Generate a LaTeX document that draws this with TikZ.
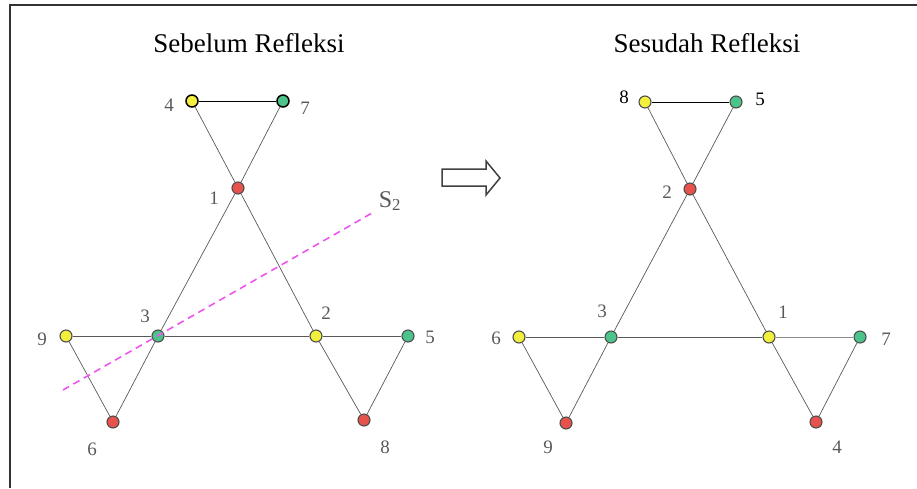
\documentclass[tikz,border=0pt]{standalone}
\usepackage{fontspec}
\setmainfont{Liberation Serif}

\definecolor{titikkuning}{HTML}{F2F03C}
\definecolor{titikhijau}{HTML}{4CC38A}
\definecolor{titikmerah}{HTML}{E8524C}
\definecolor{garismagenta}{HTML}{EE55EE}

\begin{document}
\begin{tikzpicture}[x=1pt,y=-1pt,
    titik/.style={circle,draw=black!70,line width=1.1pt,minimum size=12pt,inner sep=0pt},
    kuning/.style={titik,fill=titikkuning},
    hijau/.style={titik,fill=titikhijau},
    merah/.style={titik,fill=titikmerah},
    sisi/.style={draw=black!65,line width=0.7pt},
    angka/.style={anchor=base,inner sep=0pt,text=black!65,font=\fontsize{19}{22}\selectfont},
    judul/.style={anchor=base,inner sep=0pt,font=\fontsize{27}{30}\selectfont}]
    \useasboundingbox (0,0) rectangle (917,488);

    % bingkai
    \draw[black!80,line width=1.4pt] (10,488) -- (10,5) -- (917,5);

    % judul
    \node[judul] (jkiri) at (249,52) {Sebelum Refleksi};
    \node[judul] (jkanan) at (707,52) {Sesudah Refleksi};

    % graf sebelum refleksi
    \node[kuning,draw=black,line width=1.5pt] (a4) at (192,101) {};
    \node[hijau,draw=black,line width=1.5pt] (a7) at (283,101) {};
    \node[merah] (a1) at (238,188) {};
    \node[hijau] (a3) at (158,336) {};
    \node[kuning] (a2) at (316,336) {};
    \node[kuning] (a9) at (66,336) {};
    \node[hijau] (a5) at (408,336) {};
    \node[merah] (a6) at (113,422) {};
    \node[merah] (a8) at (364,420) {};

    \draw[black,line width=0.9pt] (a4) -- (a7);
    \draw[sisi] (a4) -- (a1) -- (a2);
    \draw[sisi] (a7) -- (a1) -- (a3);
    \draw[sisi] (a9) -- (a3) -- (a2) -- (a5);
    \draw[sisi] (a9) -- (a6) -- (a3);
    \draw[sisi] (a2) -- (a8) -- (a5);

    \node[angka] (la4) at (169,111) {4};
    \node[angka] (la7) at (305,114) {7};
    \node[angka] (la1) at (214,204) {1};
    \node[angka] (la3) at (145,322) {3};
    \node[angka] (la2) at (326,319) {2};
    \node[angka] (la9) at (42,345) {9};
    \node[angka] (la5) at (430,343) {5};
    \node[angka] (la6) at (92,455) {6};
    \node[angka] (la8) at (385,453) {8};

    % sumbu refleksi S2
    \coordinate (s2a) at (63,390);
    \coordinate (s2b) at (372,213);
    \draw[garismagenta,line width=1.6pt,dash pattern=on 7pt off 5pt] (s2a) -- (s2b);
    \node[angka,font=\fontsize{24}{26}\selectfont] (ls2) at (390,207) {S\textsubscript{2}};

    % panah
    \draw[black!75,line width=1.5pt,fill=white] (442,169) -- (486,169) -- (486,161) -- (500,178)
        -- (486,195) -- (486,186) -- (442,186) -- cycle;

    % graf sesudah refleksi
    \node[kuning] (b8) at (645,102) {};
    \node[hijau] (b5) at (736,102) {};
    \node[merah] (b2) at (690,189) {};
    \node[hijau] (b3) at (611,337) {};
    \node[kuning] (b1) at (769,337) {};
    \node[kuning] (b6) at (519,337) {};
    \node[hijau] (b7) at (860,337) {};
    \node[merah] (b9) at (566,423) {};
    \node[merah] (b4) at (816,422) {};

    \draw[black,line width=0.9pt] (b8) -- (b5);
    \draw[sisi] (b8) -- (b2) -- (b1);
    \draw[sisi] (b5) -- (b2) -- (b3);
    \draw[sisi] (b6) -- (b3) -- (b1);
    \draw[sisi,draw=black!45] (b1) -- (b7);
    \draw[sisi] (b6) -- (b9) -- (b3);
    \draw[sisi] (b1) -- (b4) -- (b7);

    \node[angka,text=black] (lb8) at (624,103) {8};
    \node[angka,text=black] (lb5) at (760,105) {5};
    \node[angka] (lb2) at (667,198) {2};
    \node[angka] (lb3) at (602,317) {3};
    \node[angka] (lb1) at (783,318) {1};
    \node[angka] (lb6) at (496,344) {6};
    \node[angka] (lb7) at (886,345) {7};
    \node[angka] (lb9) at (548,453) {9};
    \node[angka] (lb4) at (837,453) {4};
\end{tikzpicture}
\end{document}
